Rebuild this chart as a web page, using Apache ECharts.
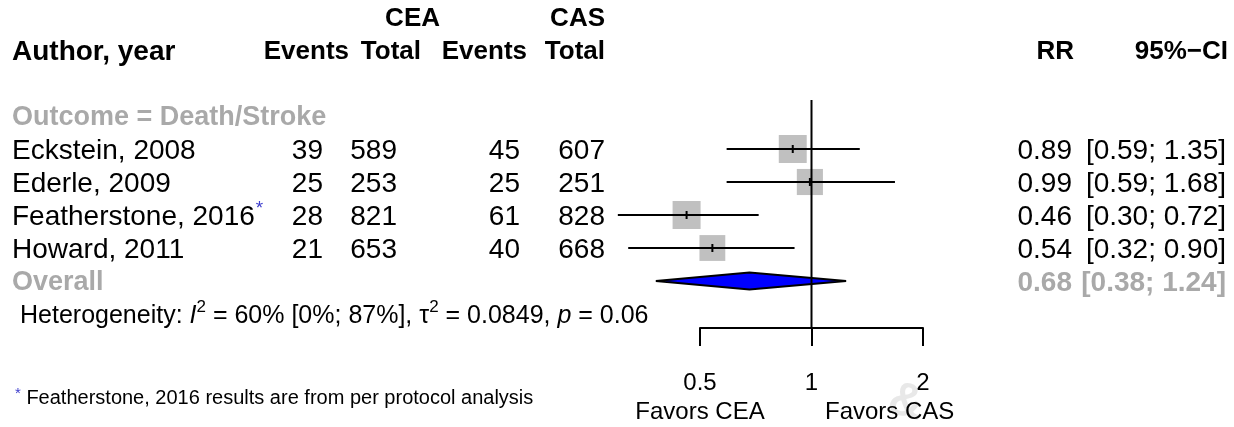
<!DOCTYPE html>
<html>
<head>
<meta charset="utf-8">
<script src="https://cdn.jsdelivr.net/npm/echarts@6/dist/echarts.min.js"></script>
<style>
  html, body { margin: 0; padding: 0; background: #ffffff; }
  #chart { width: 1234px; height: 427px; }
</style>
</head>
<body>
<div id="chart"></div>
<script>
// ---- data ----
const studyLabels = ['Eckstein, 2008', 'Ederle, 2009', 'Featherstone, 2016', 'Howard, 2011'];
const eventsCEA = [39, 25, 28, 21];
const totalCEA = [589, 253, 821, 653];
const eventsCAS = [45, 25, 61, 40];
const totalCAS = [607, 251, 828, 668];
const riskRatio = [0.89, 0.99, 0.46, 0.54];
const ciLower = [0.59, 0.59, 0.30, 0.32];
const ciUpper = [1.35, 1.68, 0.72, 0.90];
const studyWeight = [26.8, 23.4, 26.9, 22.9];      // random-effects weights, %
const perProtocol = [false, false, true, false];   // flagged with a footnote marker
const pooledRR = 0.68;
const pooledCI = [0.38, 1.24];
const axisTicks = [0.5, 1, 2];
const subgroupLabel = 'Outcome = Death/Stroke';
const leftLabel = 'Favors CEA';
const rightLabel = 'Favors CAS';
const footnoteText = ' Featherstone, 2016 results are from per protocol analysis';

// ---- layout helpers ----
const FONT = '"Liberation Sans", Arial, Helvetica, sans-serif';
const GREY = '#a9a9a9';
const BLUE_MARK = '#3c3ccc';
const FS = 28;          // table text size
const HFS = 26;         // column heading size
const DY = 2;           // optical centring of text on a row
const measureCtx = document.createElement('canvas').getContext('2d');
function textWidth(str, size, weight, italic) {
  measureCtx.font = (italic ? 'italic ' : '') + (weight || 'normal') + ' ' + size + 'px ' + FONT;
  return measureCtx.measureText(str).width;
}
function txt(x, y, str, o) {
  o = o || {};
  return {
    type: 'text', x: x, y: y, silent: true, z: 10,
    style: {
      text: str, fill: o.color || '#000', fontSize: o.size || FS,
      fontWeight: o.weight || 'normal', fontStyle: o.italic ? 'italic' : 'normal',
      fontFamily: FONT, align: o.align || 'left', verticalAlign: 'middle'
    }
  };
}
// lays out a sequence of differently styled pieces along one line
function runs(x, y, parts) {
  const out = [];
  let cx = x;
  parts.forEach(function (p) {
    out.push(txt(cx, y + (p.dy || 0), p.t, p));
    cx += textWidth(p.t, p.size || FS, p.weight, p.italic);
  });
  return out;
}
const fmt2 = v => v.toFixed(2);
const fmtCI = (l, u) => '[' + fmt2(l) + '; ' + fmt2(u) + ']';

// rows: study i sits on row i, pooled estimate on the row after the studies
const nStudies = studyLabels.length;
const pooledRow = nStudies;
const yMin = -49 / 33, yMax = 179 / 33;

const chart = echarts.init(document.getElementById('chart'), null, { renderer: 'canvas' });

chart.setOption({
  animation: false,
  backgroundColor: '#ffffff',
  grid: { left: 700, right: 311, top: 100, bottom: 99, containLabel: false },
  xAxis: {
    type: 'log', logBase: 2, min: axisTicks[0], max: axisTicks[axisTicks.length - 1], interval: 1,
    axisLine: { show: true, onZero: false, lineStyle: { color: '#000', width: 2 } },
    axisTick: { show: true, inside: false, length: 18, lineStyle: { color: '#000', width: 2 } },
    axisLabel: { show: true, margin: 43, fontSize: 24, fontFamily: FONT, color: '#000',
      formatter: v => String(+v.toPrecision(6)) },
    splitLine: { show: false }
  },
  yAxis: { type: 'value', inverse: true, min: yMin, max: yMax, show: false },
  series: [
    {
      // individual study estimates: weighted square, CI whisker, centre tick
      type: 'custom', name: 'studies', clip: false, z: 3,
      encode: { x: 0, y: 1 },
      data: riskRatio.map((r, i) => [r, i, ciLower[i], ciUpper[i], studyWeight[i]]),
      renderItem: function (params, api) {
        const c = api.coord([api.value(0), api.value(1)]);
        const xl = api.coord([api.value(2), api.value(1)])[0];
        const xu = api.coord([api.value(3), api.value(1)])[0];
        const wMax = Math.max.apply(null, studyWeight);
        const s = 28 * Math.sqrt(api.value(4) / wMax);
        return {
          type: 'group',
          children: [
            { type: 'rect', shape: { x: c[0] - s / 2, y: c[1] - s / 2, width: s, height: s },
              style: { fill: '#c0c0c0' } },
            { type: 'line', shape: { x1: xl, y1: c[1], x2: xu, y2: c[1] },
              style: { stroke: '#000', lineWidth: 2 } },
            { type: 'line', shape: { x1: c[0], y1: c[1] - 4, x2: c[0], y2: c[1] + 4 },
              style: { stroke: '#000', lineWidth: 2 } }
          ]
        };
      }
    },
    {
      // pooled random-effects estimate
      type: 'custom', name: 'pooled', clip: false, z: 3,
      encode: { x: 0, y: 1 },
      data: [[pooledRR, pooledRow, pooledCI[0], pooledCI[1]]],
      renderItem: function (params, api) {
        const c = api.coord([api.value(0), api.value(1)]);
        const xl = api.coord([api.value(2), api.value(1)])[0];
        const xu = api.coord([api.value(3), api.value(1)])[0];
        const h = 8.5;
        return {
          type: 'polygon',
          shape: { points: [[xl, c[1]], [c[0], c[1] - h], [xu, c[1]], [c[0], c[1] + h]] },
          style: { fill: '#0000ff', stroke: '#000', lineWidth: 2 }
        };
      }
    },
    {
      // line of no effect
      type: 'custom', name: 'reference', clip: false, z: 4,
      encode: { x: 0, y: 1 },
      data: [[1, yMin, yMax]],
      renderItem: function (params, api) {
        const top = api.coord([api.value(0), api.value(1)]);
        const bot = api.coord([api.value(0), api.value(2)]);
        return { type: 'line', shape: { x1: top[0], y1: top[1], x2: bot[0], y2: bot[1] },
          style: { stroke: '#000', lineWidth: 2 } };
      }
    }
  ]
});

// ---- table text, placed on the same rows as the plotted estimates ----
const rowY = i => chart.convertToPixel({ gridIndex: 0 }, [1, i])[1] + DY;
const xAt = v => chart.convertToPixel({ gridIndex: 0 }, [v, 0])[0];

const HEAD = { evE: 349, totE: 421, evC: 527, totC: 605 };
const COL = { study: 12, evE: 323, totE: 397, evC: 520, totC: 605, rr: 1072, ci: 1226 };
const g = [];
const H = { weight: 'bold', align: 'right', size: HFS };

// header
g.push(txt(440, rowY(-4), 'CEA', H));
g.push(txt(HEAD.totC, rowY(-4), 'CAS', H));
g.push(txt(COL.study, rowY(-3), 'Author, year', { weight: 'bold' }));
g.push(txt(HEAD.evE, rowY(-3), 'Events', H));
g.push(txt(HEAD.totE, rowY(-3), 'Total', H));
g.push(txt(HEAD.evC, rowY(-3), 'Events', H));
g.push(txt(HEAD.totC, rowY(-3), 'Total', H));
g.push(txt(1074, rowY(-3), 'RR', H));
g.push(txt(1228, rowY(-3), '95%\u2212CI', H));

// subgroup heading
g.push(txt(COL.study, rowY(-1), subgroupLabel, { weight: 'bold', color: GREY, size: 27 }));

// study rows
studyLabels.forEach(function (lab, i) {
  const y = rowY(i);
  g.push(txt(COL.study, y, lab));
  if (perProtocol[i]) {
    g.push(txt(COL.study + textWidth(lab, FS) + 1, y - 8, '*', { size: 19, color: BLUE_MARK }));
  }
  g.push(txt(COL.evE, y, String(eventsCEA[i]), { align: 'right' }));
  g.push(txt(COL.totE, y, String(totalCEA[i]), { align: 'right' }));
  g.push(txt(COL.evC, y, String(eventsCAS[i]), { align: 'right' }));
  g.push(txt(COL.totC, y, String(totalCAS[i]), { align: 'right' }));
  g.push(txt(COL.rr, y, fmt2(riskRatio[i]), { align: 'right' }));
  g.push(txt(COL.ci, y, fmtCI(ciLower[i], ciUpper[i]), { align: 'right' }));
});

// pooled row
g.push(txt(COL.study, rowY(pooledRow), 'Overall', { weight: 'bold', color: GREY, size: 27 }));
g.push(txt(COL.rr, rowY(pooledRow), fmt2(pooledRR), { weight: 'bold', color: GREY, align: 'right' }));
g.push(txt(COL.ci, rowY(pooledRow), fmtCI(pooledCI[0], pooledCI[1]), { weight: 'bold', color: GREY, align: 'right' }));

// heterogeneity statistics
const HS = 25, SUP = 17;
Array.prototype.push.apply(g, runs(20, rowY(pooledRow + 1), [
  { t: 'Heterogeneity: ', size: HS },
  { t: 'I', size: HS, italic: true },
  { t: '2', size: SUP, dy: -9 },
  { t: ' = 60% [0%; 87%], ', size: HS },
  { t: '\u03c4', size: HS },
  { t: '2', size: SUP, dy: -9 },
  { t: ' = 0.0849, ', size: HS },
  { t: 'p', size: HS, italic: true },
  { t: ' = 0.06', size: HS }
]));

// axis captions
g.push(txt(xAt(axisTicks[0]), 412, leftLabel, { size: 24, align: 'center' }));
g.push(txt(825, 412, rightLabel, { size: 24, align: 'left' }));

// footnote
Array.prototype.push.apply(g, runs(15, 398, [
  { t: '*', size: 15, color: BLUE_MARK, dy: -4 },
  { t: footnoteText, size: 20 }
]));

// faint stamp mark near the right caption
g.push({ type: 'text', x: 906, y: 403, rotation: -0.25, silent: true, z: 1,
  style: { text: '&', fill: '#e8e8e8', fontSize: 48, fontWeight: 'bold', fontFamily: FONT,
    align: 'center', verticalAlign: 'middle' } });

chart.setOption({ graphic: { elements: g } });
</script>
</body>
</html>
